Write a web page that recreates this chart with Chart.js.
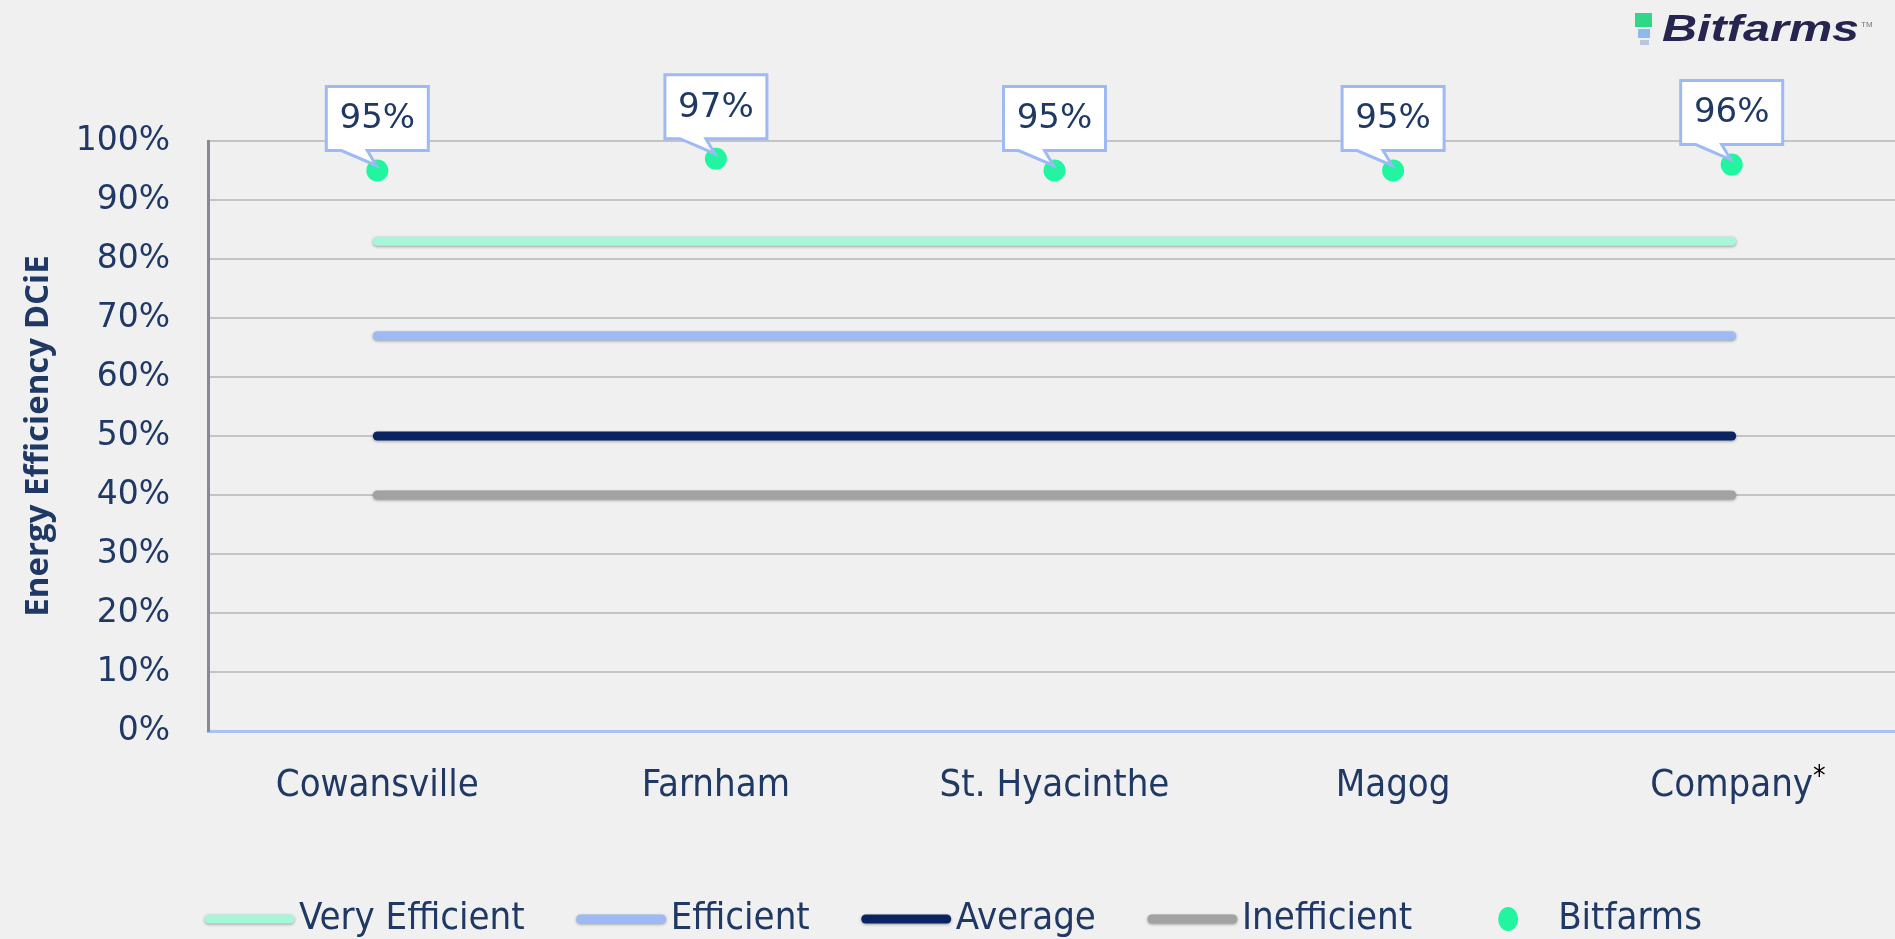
<!DOCTYPE html>
<html>
<head>
<meta charset="utf-8">
<script src="https://cdn.jsdelivr.net/npm/chart.js@4.4.0/dist/chart.umd.min.js"></script>
<style>
  body { margin: 0; background: #f0f0f0; overflow: hidden; }
  #wrap { position: relative; width: 1895px; height: 939px; overflow: hidden; }
  #logo { position: absolute; left: 1635px; top: 10px; height: 40px; }
  #logo .ic1 { position: absolute; left: 0; top: 3px; width: 17px; height: 14px; background: #2ed889; }
  #logo .ic2 { position: absolute; left: 3px; top: 19px; width: 12px; height: 9px; background: #8fb8ef; }
  #logo .ic3 { position: absolute; left: 5px; top: 30px; width: 9px; height: 5px; background: #b9c6dc; }
  #logo .txt { position: absolute; left: 27px; top: -2px; font: italic bold 36px 'Liberation Sans', Arial, sans-serif;
               color: #25254f; transform: scaleX(1.35); transform-origin: left top; white-space: nowrap; }
  #logo .tm { position: absolute; left: 226px; top: 10px; font: 8px 'Liberation Sans', sans-serif; color: #777; }
</style>
</head>
<body>
<div id="wrap">
  <canvas id="myChart" width="1912" height="939"></canvas>
  <div id="logo"><div class="ic1"></div><div class="ic2"></div><div class="ic3"></div>
    <div class="txt">Bitfarms</div><div class="tm">TM</div></div>
</div>
<script>
// data
const sites = ['Cowansville', 'Farnham', 'St. Hyacinthe', 'Magog', 'Company*'];
const veryEfficient = [83, 83, 83, 83, 83];
const efficient = [67, 67, 67, 67, 67];
const average = [50, 50, 50, 50, 50];
const inefficient = [40, 40, 40, 40, 40];
const bitfarms = [95, 97, 95, 95, 96];
const yTicks = [0, 10, 20, 30, 40, 50, 60, 70, 80, 90, 100];

const navy = '#1f3864';
const labelFont = "'Liberation Sans Narrow', 'DejaVu Sans Condensed', sans-serif";
const xLabelSize = 38;
const xLabelPad = 24;

// shadow under the flat lines, like the office chart
const lineShadow = {
    id: 'lineShadow',
    beforeDatasetDraw(chart, args) {
        if (args.meta.type !== 'line' || !chart.data.datasets[args.index].showLine) return;
        const ctx = chart.ctx;
        ctx.save();
        ctx.shadowColor = 'rgba(0,0,0,0.35)';
        ctx.shadowBlur = 3;
        ctx.shadowOffsetY = 1;
    },
    afterDatasetDraw(chart, args) {
        if (args.meta.type !== 'line' || !chart.data.datasets[args.index].showLine) return;
        chart.ctx.restore();
    }
};

// black superscript asterisk after the footnoted category
const footnoteMark = {
    id: 'footnoteMark',
    afterDraw(chart) {
        const ctx = chart.ctx;
        const xs = chart.scales.x;
        ctx.save();
        sites.forEach((s, i) => {
            if (!s.endsWith('*')) return;
            ctx.font = xLabelSize + 'px ' + labelFont;
            const w = ctx.measureText(s.slice(0, -1)).width;
            const px = xs.getPixelForTick(i) + w / 2;
            const ly = xs.top + xLabelPad + xLabelSize * 0.6;
            ctx.fillStyle = '#000';
            ctx.font = '28px ' + labelFont;
            ctx.textAlign = 'left';
            ctx.textBaseline = 'middle';
            ctx.fillText('*', px, ly);
        });
        ctx.restore();
    }
};

// callout boxes above the Bitfarms points
const callouts = {
    id: 'callouts',
    afterDatasetsDraw(chart) {
        const ctx = chart.ctx;
        const idx = chart.data.datasets.findIndex(d => d.label === 'Bitfarms');
        const meta = chart.getDatasetMeta(idx);
        meta.data.forEach((pt, i) => {
            const x = pt.x, y = pt.y;
            const w = 102, h = 64;
            const left = x - w / 2, right = x + w / 2;
            const bottom = y - 20, top = bottom - h;
            ctx.save();
            ctx.beginPath();
            ctx.moveTo(left, top);
            ctx.lineTo(right, top);
            ctx.lineTo(right, bottom);
            ctx.lineTo(x - 10, bottom);
            ctx.lineTo(x - 1, y - 5);
            ctx.lineTo(x - 36, bottom);
            ctx.lineTo(left, bottom);
            ctx.closePath();
            ctx.fillStyle = '#ffffff';
            ctx.fill();
            ctx.lineWidth = 3;
            ctx.strokeStyle = '#9dbaf5';
            ctx.lineJoin = 'miter';
            ctx.stroke();
            ctx.fillStyle = navy;
            ctx.font = "34px 'DejaVu Sans', sans-serif";
            ctx.textAlign = 'center';
            ctx.textBaseline = 'middle';
            ctx.fillText(bitfarms[i] + '%', x, (top + bottom) / 2 + 1);
            ctx.restore();
        });
    }
};

// legend row along the bottom
const bottomLegend = {
    id: 'bottomLegend',
    afterDraw(chart) {
        const ctx = chart.ctx;
        const cy = 919;
        let x = 205;
        ctx.save();
        ctx.font = '38px ' + labelFont;
        ctx.textBaseline = 'middle';
        ctx.textAlign = 'left';
        chart.data.datasets.forEach(ds => {
            if (ds.showLine) {
                ctx.beginPath();
                ctx.moveTo(x + 4, cy);
                ctx.lineTo(x + 85, cy);
                ctx.lineWidth = 9;
                ctx.lineCap = 'round';
                ctx.strokeStyle = ds.borderColor;
                ctx.shadowColor = 'rgba(0,0,0,0.35)';
                ctx.shadowBlur = 3;
                ctx.shadowOffsetY = 1;
                ctx.stroke();
                ctx.shadowColor = 'transparent';
            } else {
                ctx.beginPath();
                ctx.ellipse(x + 44, cy, 10, 12, 0, 0, Math.PI * 2);
                ctx.fillStyle = ds.backgroundColor;
                ctx.fill();
            }
            const tx = x + 94;
            ctx.fillStyle = navy;
            ctx.fillText(ds.label, tx, cy);
            x = tx + ctx.measureText(ds.label).width + 52;
        });
        ctx.restore();
    }
};

const ctx = document.getElementById('myChart').getContext('2d');
new Chart(ctx, {
    type: 'line',
    data: {
        labels: sites,
        datasets: [
            { label: 'Very Efficient', data: veryEfficient, borderColor: '#a6f7d8', backgroundColor: '#a6f7d8', borderWidth: 9, showLine: true, pointRadius: 0, borderCapStyle: 'round' },
            { label: 'Efficient', data: efficient, borderColor: '#9dbaf5', backgroundColor: '#9dbaf5', borderWidth: 9, showLine: true, pointRadius: 0, borderCapStyle: 'round' },
            { label: 'Average', data: average, borderColor: '#0b2360', backgroundColor: '#0b2360', borderWidth: 9, showLine: true, pointRadius: 0, borderCapStyle: 'round' },
            { label: 'Inefficient', data: inefficient, borderColor: '#a2a2a2', backgroundColor: '#a2a2a2', borderWidth: 9, showLine: true, pointRadius: 0, borderCapStyle: 'round' },
            { label: 'Bitfarms', data: bitfarms, borderColor: '#22f5a0', backgroundColor: '#22f5a0', showLine: false, pointRadius: 11, pointBorderWidth: 0, pointHoverRadius: 11 }
        ]
    },
    options: {
        responsive: false,
        devicePixelRatio: 1,
        animation: false,
        layout: { padding: { top: 141, right: 0, left: 0, bottom: 0 } },
        plugins: {
            legend: { display: false },
            tooltip: { enabled: false }
        },
        scales: {
            x: {
                offset: true,
                grid: { display: false },
                border: { color: '#a9c2ee', width: 3 },
                ticks: {
                    color: navy,
                    font: { family: labelFont, size: xLabelSize },
                    padding: xLabelPad,
                    maxRotation: 0,
                    callback(v, i) { return sites[i].replace(/\*$/, ''); }
                },
                afterFit(scale) { scale.height = 939 - 731; }
            },
            y: {
                min: 0,
                max: 100,
                afterBuildTicks(scale) { scale.ticks = yTicks.map(v => ({ value: v })); },
                grid: { color: '#c4c4c4', lineWidth: 2, drawTicks: false },
                border: { color: '#868a94', width: 3 },
                ticks: {
                    color: navy,
                    font: { family: "'DejaVu Sans', sans-serif", size: 33 },
                    padding: 38,
                    callback: v => v + '%'
                },
                title: {
                    display: true,
                    text: 'Energy Efficiency DCiE',
                    color: navy,
                    font: { family: "'Open Sans', sans-serif", size: 33, weight: 'bold' },
                    padding: { top: 19, bottom: 0 }
                },
                afterFit(scale) { scale.width = 208; }
            }
        }
    },
    plugins: [lineShadow, callouts, bottomLegend, footnoteMark]
});
</script>
</body>
</html>
